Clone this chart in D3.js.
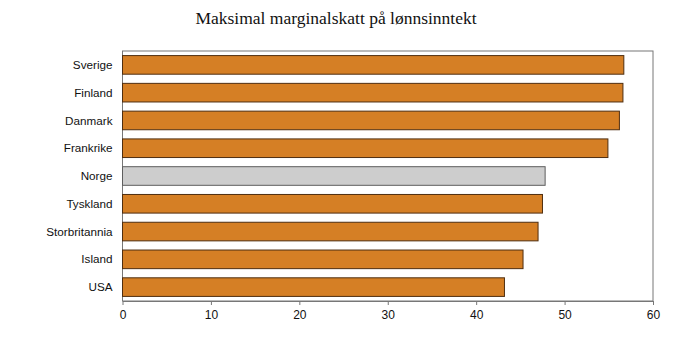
<!DOCTYPE html>
<html>
<head>
<meta charset="utf-8">
<script src="https://cdn.jsdelivr.net/npm/d3@7"></script>
<style>
  body { margin: 0; background: #fff; }
  svg { display: block; }
</style>
</head>
<body>
<div id="chart"></div>
<script>
// Maksimal marginalskatt på lønnsinntekt, prosent
const countries = ["Sverige", "Finland", "Danmark", "Frankrike", "Norge", "Tyskland", "Storbritannia", "Island", "USA"];
const rates = [56.7, 56.6, 56.2, 54.9, 47.8, 47.5, 47.0, 45.3, 43.2];
const highlight = ["Norge"];
const xTicks = [0, 10, 20, 30, 40, 50, 60];

const width = 699, height = 341;
const margin = { top: 51, right: 46, bottom: 40, left: 122.5 };

const svg = d3.select("#chart").append("svg")
  .attr("width", width).attr("height", height);

svg.append("text")
  .attr("x", 336).attr("y", 24)
  .attr("text-anchor", "middle")
  .attr("font-family", "Liberation Serif, Times New Roman, serif")
  .attr("font-size", 17.5)
  .attr("fill", "#111")
  .text("Maksimal marginalskatt på lønnsinntekt");

const x = d3.scaleLinear().domain([0, 60]).range([margin.left, width - margin.right]);
const y = d3.scaleBand().domain(countries)
  .range([margin.top, height - margin.bottom])
  .paddingInner(0.33).paddingOuter(0.165);

// plot frame
svg.append("rect")
  .attr("x", x(0)).attr("y", margin.top)
  .attr("width", x(60) - x(0)).attr("height", height - margin.bottom - margin.top)
  .attr("fill", "none").attr("stroke", "#777").attr("stroke-width", 1);

// bars
svg.append("g").selectAll("rect")
  .data(countries)
  .join("rect")
  .attr("x", x(0))
  .attr("y", d => y(d))
  .attr("width", (d, i) => x(rates[i]) - x(0))
  .attr("height", y.bandwidth())
  .attr("fill", d => highlight.includes(d) ? "#cdcdcd" : "#d57f25")
  .attr("stroke", d => highlight.includes(d) ? "#5e5e5e" : "#4f2e10")
  .attr("stroke-width", 1);

// category labels
svg.append("g").selectAll("text")
  .data(countries)
  .join("text")
  .attr("x", x(0) - 10)
  .attr("y", d => y(d) + y.bandwidth() / 2)
  .attr("dy", "0.35em")
  .attr("text-anchor", "end")
  .attr("font-family", "Liberation Sans, Arial, sans-serif")
  .attr("font-size", 11.7)
  .attr("fill", "#111")
  .text(d => d);

// x axis
const axis = svg.append("g")
  .attr("transform", `translate(0,${height - margin.bottom})`)
  .call(d3.axisBottom(x).tickValues(xTicks).tickSize(4).tickSizeOuter(0).tickFormat(d3.format("d")));
axis.select(".domain").attr("stroke", "#777");
axis.selectAll(".tick line").attr("stroke", "#777");
axis.selectAll(".tick text")
  .attr("font-family", "Liberation Sans, Arial, sans-serif")
  .attr("font-size", 12)
  .attr("fill", "#111")
  .attr("dy", "0.9em");
</script>
</body>
</html>
